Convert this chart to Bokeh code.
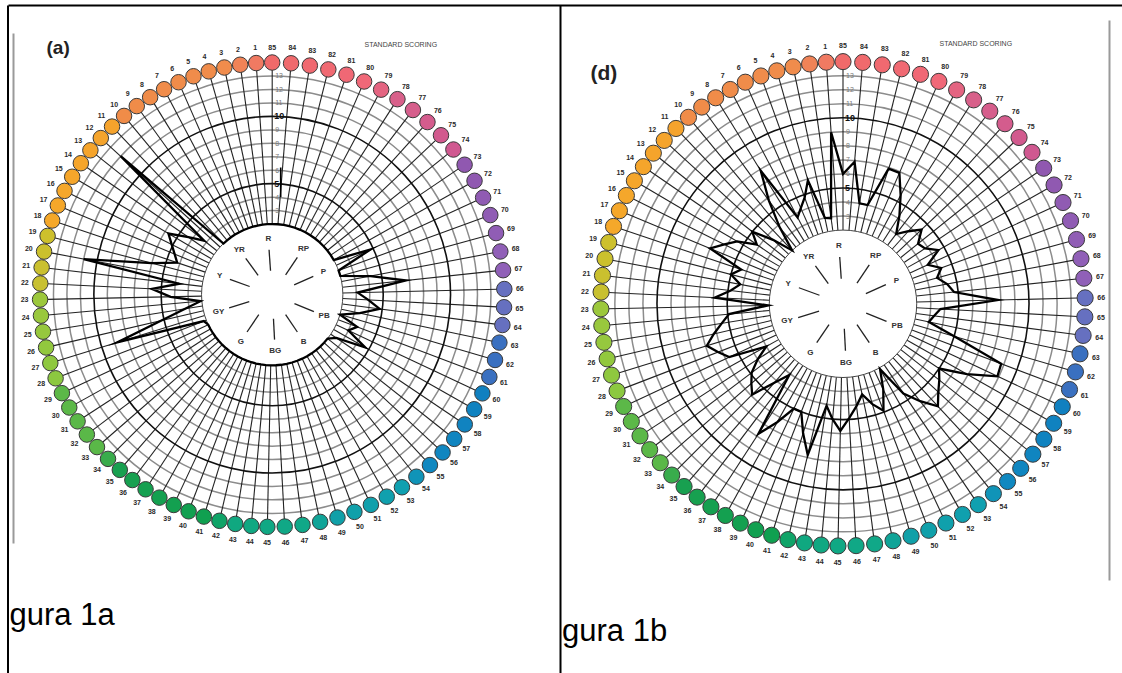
import numpy as np
from bokeh.plotting import figure
from bokeh.models import Range1d
from bokeh.core.properties import value
from bokeh.embed import file_html
from bokeh.resources import INLINE

W, H = 1122, 673

# cap numbers 1..85 and error scores per cap
caps = list(range(1, 86))

scores_a = [2, 2, 2, 2, 2, 2, 2, 2, 2, 2,          # 1-10
            2, 12, 3.2, 4.3, 5.7, 5.1, 4.6, 4.2, 6, 11,   # 11-20
            3.7, 5.7, 4.3, 2.1, 3.3, 5.2, 8.8, 2.2, 2, 2,  # 21-30
            2, 2, 2, 2, 2, 2, 2, 2, 2, 2,          # 31-40
            2, 2, 2, 2, 2, 2, 2, 2, 2, 2,          # 41-50
            2, 2, 2, 2, 2, 2, 2, 2.5, 4.7, 3,      # 51-60
            3.5, 2, 3.4, 4.8, 3.9, 3.1, 6.75, 4.2, 2, 2,   # 61-70
            4.8, 2, 2, 2, 2, 2, 2, 2, 2, 2,        # 71-80
            2, 2, 2, 2, 2]                         # 81-85

scores_d = [9, 2.9, 3.0, 5.9, 4.8, 4.2, 3.7, 7.9, 5.8, 3.8,     # 1-10
            2.0, 3.5, 5.0, 4.2, 5.5, 6.2, 7.0, 4.4, 5.0, 4.2,   # 11-20
            4.8, 5.9, 2.1, 4.9, 5.5, 6.2, 6.9, 6.3, 5.7, 3.0,   # 21-30
            4.0, 4.9, 5.4, 5.9, 4.2, 3.1, 7.8, 6.4, 5.0, 5.0,   # 31-40
            6.4, 7.8, 4.1, 5.0, 5.8, 4.9, 4.1, 3.35, 4.2, 4.9,  # 41-50
            3.5, 2.1, 4.45, 5.6, 6.7, 6.0, 5.5, 5.0, 6.9, 8.9,  # 51-60
            8.8, 5.0, 3.0, 3.3, 3.7, 7.8, 4.7, 4.3, 3.7, 4.2,   # 61-70
            3.4, 4.55, 3.8, 3.6, 4.45, 3.7, 3.0, 4.2, 5.5, 6.9,  # 71-80
            6.9, 4.0, 4.0, 6.9, 6.0]                            # 81-85

score_ticks = list(range(3, 14))
hue_names = ["R", "YR", "Y", "GY", "G", "BG", "B", "PB", "P", "RP"]
hue_angles = [94, 126, 160, 197, 236, 273, 304, 338, 384, 416]

# cap colour ramp (cap number -> colour), interpolated in between
ramp_caps = [0, 1, 3, 10, 11, 18, 19, 22, 23, 28, 29, 33, 35, 41, 43, 47,
             49, 53, 55, 60, 61, 63, 64, 66, 67, 73, 74, 78, 80, 85]
ramp_cols = ["#f06a6a", "#f07a62", "#f08c4c", "#f08c48", "#f5a32c", "#f5a82a",
             "#cdc02c", "#c8c030", "#9cc83c", "#8cc840", "#5cb848", "#5ab848",
             "#18a050", "#10a050", "#10a880", "#10a888", "#10a0a8", "#10a0b0",
             "#1088c0", "#1080c0", "#3a70c0", "#3a70c0", "#6670c0", "#6670c0",
             "#9060b8", "#9058b0", "#d05890", "#d8608a", "#f06878", "#f06a6a"]

# cap position on the ring: cap index -> angle (deg), piecewise linear
ring_caps = [0, 22.7, 45.3, 65.7, 85]
ring_deg = [90, 180, 270, 360, 450]


def cap_angle(c):
    return np.deg2rad(np.interp(np.asarray(c) % 85, ring_caps, ring_deg))


def hex2rgb(h):
    return np.array([int(h[i:i + 2], 16) for i in (1, 3, 5)], dtype=float)


def cap_colour(c):
    rgb = np.array([hex2rgb(h) for h in ramp_cols])
    out = [int(round(np.interp(c, ramp_caps, rgb[:, j]))) for j in range(3)]
    return "#%02x%02x%02x" % tuple(out)


FONT = value("Liberation Sans")

p = figure(width=W, height=H, x_range=Range1d(0, W), y_range=Range1d(0, H),
           output_backend="svg", toolbar_location=None, min_border=0)
p.axis.visible = False
p.grid.visible = False
p.outline_line_color = None
p.background_fill_color = "white"
p.border_fill_color = "white"


def page_y(y):
    return H - y


def draw_chart(cx, cy_page, k, scores, tag, tag_xy, tag_size, std_xy, marker=False):
    cy = page_y(cy_page)
    R0 = 3.25
    f = k / 13.46

    def rad(s):
        return (np.asarray(s, dtype=float) + R0) * k

    # grey score circles
    thin = [s for s in score_ticks if s not in (5, 10)]
    p.circle(x=[cx] * len(thin), y=[cy] * len(thin), radius=list(rad(thin)),
             fill_color=None, line_color="#8c8c8c", line_width=1.5)
    # radial spokes, one per cap
    th = cap_angle(np.array(caps))
    r_in, r_out = rad(2), rad(14) - 7 * f
    xs = [[cx + r_in * np.cos(t), cx + r_out * np.cos(t)] for t in th]
    ys = [[cy + r_in * np.sin(t), cy + r_out * np.sin(t)] for t in th]
    p.multi_line(xs, ys, line_color="#222222", line_width=1.1)
    # bold circles at 5 and 10
    p.circle(x=[cx, cx], y=[cy, cy], radius=list(rad([5, 10])),
             fill_color=None, line_color="#111111", line_width=1.6)
    # inner disc
    p.circle(x=[cx], y=[cy], radius=[rad(2)], fill_color="white",
             line_color="#444444", line_width=1.0)

    # score labels up the vertical spoke
    small = [s for s in score_ticks if s not in (5, 10)]
    p.text(x=[cx + 3] * len(small), y=list(cy + rad(small)),
           text=[str(s) for s in small], text_font=FONT,
           text_font_size="7px", text_color="#7a7a7a",
           text_baseline="middle", text_align="left")
    p.text(x=[cx + 2] * 2, y=list(cy + rad([5, 10])), text=["5", "10"],
           text_font=FONT, text_font_size="9px", text_font_style="bold",
           text_color="#111111", text_baseline="middle", text_align="left")
    if marker:
        p.line(x=[cx + 8.5, cx + 8.5], y=list(cy + rad([4.0, 6.2])),
               line_color="black", line_width=1.6)

    # hue sector labels in the disc
    ha = np.deg2rad(hue_angles)
    seg_x = [[cx + 24 * f * np.cos(a), cx + 45 * f * np.cos(a)] for a in ha]
    seg_y = [[cy + 24 * f * np.sin(a), cy + 45 * f * np.sin(a)] for a in ha]
    p.multi_line(seg_x, seg_y, line_color="#222222", line_width=1.3)
    p.text(x=list(cx + 56 * f * np.cos(ha)), y=list(cy + 56 * f * np.sin(ha)),
           text=hue_names, text_font=FONT, text_font_size="8px",
           text_font_style="bold", text_color="#333333",
           text_baseline="middle", text_align="center")

    # error score trace (closed)
    sc = np.array(scores + scores[:1], dtype=float)
    cc = np.array(caps + caps[:1])
    ta = cap_angle(cc)
    p.line(x=list(cx + rad(sc) * np.cos(ta)), y=list(cy + rad(sc) * np.sin(ta)),
           line_color="black", line_width=2.3, line_join="miter")

    # cap dots
    p.scatter(x=list(cx + rad(14) * np.cos(th)), y=list(cy + rad(14) * np.sin(th)),
              size=15.5 * f, fill_color=[cap_colour(c) for c in caps],
              line_color="#3a3a3a", line_width=1.0)
    p.text(x=list(cx + rad(15.15) * np.cos(th)), y=list(cy + rad(15.15) * np.sin(th)),
           text=[str(c) for c in caps], text_font=FONT, text_font_size="7px",
           text_font_style="bold", text_color="#2a2a2a",
           text_baseline="middle", text_align="center")

    p.text(x=[tag_xy[0]], y=[page_y(tag_xy[1])], text=[tag], text_font=FONT,
           text_font_size=tag_size, text_font_style="bold", text_color="#222222",
           text_baseline="middle", text_align="left")
    p.text(x=[std_xy[0]], y=[page_y(std_xy[1])], text=["STANDARD SCORING"],
           text_font=FONT, text_font_size="7px", text_color="#444444",
           text_baseline="middle", text_align="left")


draw_chart(271.7, 294.2, 13.46, scores_a, "(a)", (46, 47), "19px", (364, 44), marker=True)
draw_chart(842.5, 303.3, 14.04, scores_d, "(d)", (590, 72), "21px", (939, 43))

# page frame lines
p.segment(x0=[8, 7.5, 560], y0=[page_y(5), page_y(5), page_y(5)],
          x1=[W, 7.5, 560], y1=[page_y(5), 0, 0],
          line_color="black", line_width=2)
p.segment(x0=[13, 1109], y0=[page_y(33), page_y(20)],
          x1=[13, 1109], y1=[page_y(543), page_y(580)],
          line_color="#9a9a9a", line_width=2)

p.text(x=[9, 561.5], y=[page_y(614), page_y(630)], text=["gura 1a", "gura 1b"],
       text_font=FONT, text_font_size="31px", text_color="black",
       text_baseline="alphabetic", text_align="left")

open("out.html", "w").write(file_html(p, INLINE))
